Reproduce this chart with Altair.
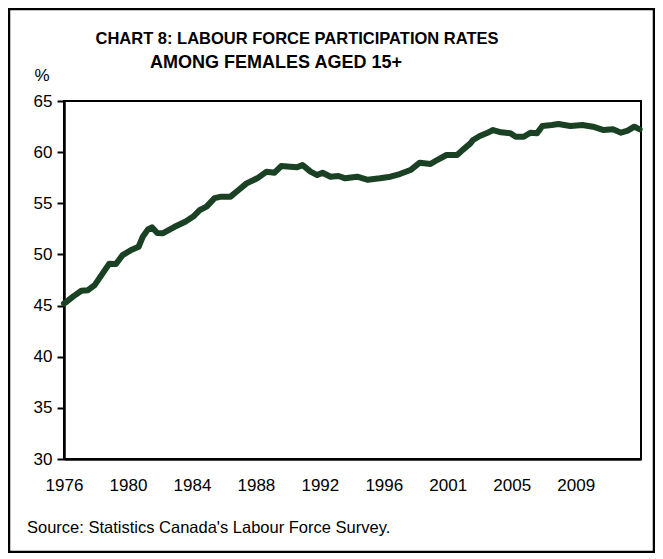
import json
import altair as alt
import pandas as pd

# Months elapsed since January 1976
months = [0, 2, 7, 13, 18, 23, 29, 34, 39, 44, 50, 56, 59, 63, 66, 70, 74, 83, 91, 97,
          102, 107, 113, 118, 125, 131, 137, 145, 152, 158, 163, 170, 175, 179, 185, 190,
          194, 200, 206, 211, 220, 228, 237, 245, 252, 260, 267, 275, 280, 287, 295, 299,
          305, 307, 312, 317, 322, 328, 335, 339, 345, 350, 355, 359, 366, 371, 380, 389,
          397, 405, 412, 418, 423, 428, 432]
# Participation rate, females 15+ (%)
rates = [45.2, 45.38, 45.9, 46.45, 46.5, 47.0, 48.15, 49.1, 49.06, 49.94, 50.4, 50.75,
         51.7, 52.45, 52.65, 52.1, 52.06, 52.7, 53.2, 53.7, 54.35, 54.67, 55.5, 55.65,
         55.65, 56.3, 56.95, 57.44, 58.09, 57.99, 58.64, 58.58, 58.52, 58.74, 58.09, 57.76,
         57.99, 57.6, 57.67, 57.44, 57.6, 57.3, 57.44, 57.6, 57.86, 58.25, 58.97, 58.84,
         59.23, 59.72, 59.72, 60.2, 60.86, 61.19, 61.58, 61.84, 62.16, 61.94, 61.84, 61.5,
         61.5, 61.9, 61.84, 62.55, 62.65, 62.75, 62.55, 62.65, 62.49, 62.16, 62.23, 61.9,
         62.1, 62.49, 62.23]

x_tick_months = [0, 48, 96, 144, 192, 240, 288, 336, 384]
x_tick_labels = ["1976", "1980", "1984", "1988", "1992", "1996", "2001", "2005", "2009"]
y_ticks = [30, 35, 40, 45, 50, 55, 60, 65]

title_1 = "CHART 8: LABOUR FORCE PARTICIPATION RATES"
title_2 = "AMONG FEMALES AGED 15+"
unit_label = "%"
source_text = "Source: Statistics Canada's Labour Force Survey."

FONT = "Liberation Sans"
W, H = 577, 358

df = pd.DataFrame({"month": months, "rate": rates})
label_expr = json.dumps(x_tick_labels) + "[datum.value / 48]"

line = alt.Chart(df).mark_line(color="#1B4124", strokeWidth=6, strokeJoin="round", strokeCap="round").encode(
    x=alt.X("month:Q",
            scale=alt.Scale(domain=[0, 433], nice=False, zero=False),
            axis=alt.Axis(values=x_tick_months, labelExpr=label_expr, ticks=False,
                          title=None, grid=False, domainColor="black", domainWidth=2.5,
                          labelFontSize=17, labelFont=FONT, labelColor="black",
                          labelPadding=18, labelFlush=False)),
    y=alt.Y("rate:Q",
            scale=alt.Scale(domain=[30, 65], nice=False, zero=False),
            axis=alt.Axis(values=y_ticks, title=None, grid=False, domainColor="black",
                          domainWidth=2.5, tickColor="black", tickWidth=2, tickSize=7,
                          labelFontSize=17, labelFont=FONT, labelColor="black",
                          labelPadding=5)),
)

def txt(s, x, y, size, weight="normal", align="center", baseline="alphabetic"):
    return alt.Chart(pd.DataFrame({"s": [s]})).mark_text(
        font=FONT, fontSize=size, fontWeight=weight, align=align, baseline=baseline,
        color="black").encode(text="s:N", x=alt.value(x), y=alt.value(y))

t1 = txt(title_1, 233, -57, 16.5, "bold")
t2 = txt(title_2, 212, -33, 18, "bold")
pct = txt(unit_label, -22, -20, 17)
src = txt(source_text, -37, 432, 16.5, align="left")

frame = alt.Chart(pd.DataFrame({"s": [""]})).mark_rect(
    fill=None, stroke="black", strokeWidth=2.5).encode(
    x=alt.value(-55), x2=alt.value(590), y=alt.value(-92), y2=alt.value(451))

chart = alt.layer(frame, line, t1, t2, pct, src).properties(
    width=W, height=H,
    autosize=alt.AutoSizeParams(type="none"),
    padding={"left": 56, "top": 93, "right": 14, "bottom": 94},
    background="white",
).configure_view(stroke="black", strokeWidth=2)

chart.save("out.html", embed_options={"renderer": "svg", "actions": False})
